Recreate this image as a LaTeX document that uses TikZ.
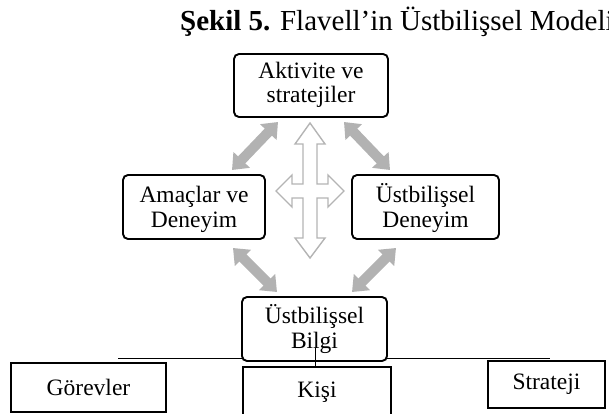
\documentclass[tikz,border=0pt]{standalone}
\usepackage{fontspec}
\setmainfont{Liberation Serif}
\usetikzlibrary{arrows.meta}
\definecolor{arrowgray}{RGB}{178,178,178}
\definecolor{crossgray}{RGB}{180,180,180}
\newcommand\bxfont{\fontsize{23.5}{24.5}\selectfont}
\newcommand\ttlfont{\fontsize{29}{31}\selectfont}
\tikzset{
  rbox/.style={draw, line width=1.9pt, rounded corners=5pt, fill=white,
    align=center, inner sep=0pt, font=\bxfont, text height=45pt, text depth=5pt},
  sbox/.style={draw, line width=2.3pt, fill=white, inner sep=0pt, font=\bxfont},
  dblarrow/.style={line width=10pt, draw=arrowgray,
    {Triangle[width=22pt,length=14pt]}-{Triangle[width=22pt,length=14pt]}},
  crossarrow/.style={draw=crossgray, line width=1.4pt, fill=white, line join=miter},
  thinline/.style={draw, line width=0.9pt}
}
\begin{document}
\begin{tikzpicture}[x=1pt, y=-1pt]
\useasboundingbox (0,0) rectangle (609,414);

% caption
\node[anchor=base west, inner sep=0pt, font=\ttlfont] (title) at (180,31)
  {\textbf{Şekil 5.} Flavell’in Üstbilişsel Modeli};

% level line under the knowledge box
\coordinate (lineL) at (118,358);
\coordinate (lineR) at (550,358);
\draw[thinline] (lineL) -- (lineR);

% main boxes
\node[rbox, text height=40pt, minimum width=154pt, minimum height=63pt] (akt) at (311,85.5)
  {Aktivite ve\\stratejiler};
\node[rbox, minimum width=142pt, minimum height=64pt] (amac) at (194,207)
  {Amaçlar ve\\Deneyim};
\node[rbox, minimum width=147pt, minimum height=64pt] (ustd) at (425.5,207)
  {Üstbilişsel\\Deneyim};
\node[rbox, text height=43pt, minimum width=145pt, minimum height=64pt] (bilgi) at (314.5,329)
  {Üstbilişsel\\Bilgi};

% knowledge components
\node[sbox, minimum width=155pt, minimum height=49pt] (gorev) at (88.5,387.5) {Görevler};
\node[sbox, minimum width=148pt, minimum height=50pt] (kisi) at (317,392) {Kişi};
\node[sbox, minimum width=117pt, minimum height=47pt] (strat) at (546.5,384.5) {Strateji};

% short link into the person box
\coordinate (linkTop) at (315,348);
\draw[thinline] (linkTop) -- (linkTop |- kisi.north);

% thick two-headed arrows
\coordinate (a1) at (232,170); \coordinate (a2) at (278,122);
\coordinate (b1) at (344,122); \coordinate (b2) at (390,170);
\coordinate (c1) at (233,248); \coordinate (c2) at (277,292);
\coordinate (d1) at (352,292); \coordinate (d2) at (396,248);
\draw[dblarrow] (a1) -- (a2);
\draw[dblarrow] (b1) -- (b2);
\draw[dblarrow] (c1) -- (c2);
\draw[dblarrow] (d1) -- (d2);

% four-way outlined arrow in the centre
\draw[crossarrow]
  (310,123) -- (325,144) -- (317,144) -- (317,184) -- (328,184) -- (328,175)
  -- (344,191) -- (328,207) -- (328,198) -- (317,198) -- (317,238) -- (325,238)
  -- (310,258) -- (295,238) -- (303,238) -- (303,198) -- (292,198) -- (292,207)
  -- (276,191) -- (292,175) -- (292,184) -- (303,184) -- (303,144) -- (295,144)
  -- cycle;
\end{tikzpicture}
\end{document}
